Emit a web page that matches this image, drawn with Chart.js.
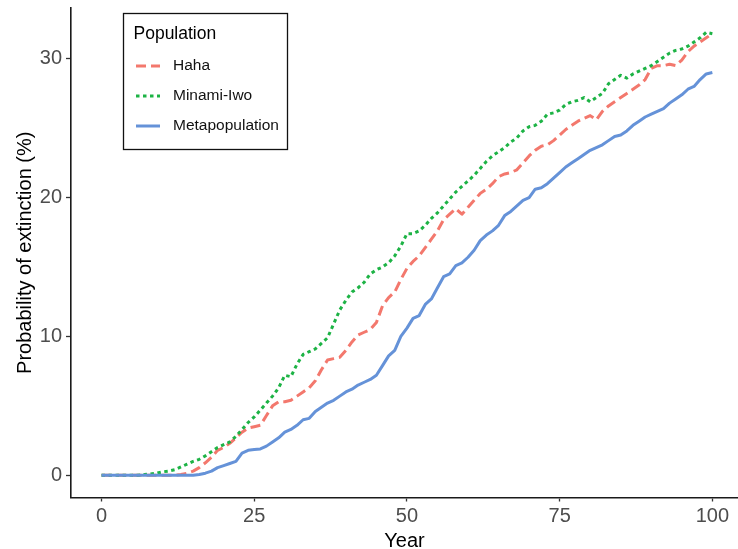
<!DOCTYPE html>
<html>
<head>
<meta charset="utf-8">
<script src="https://cdn.jsdelivr.net/npm/chart.js@4.4.1/dist/chart.umd.min.js"></script>
<style>
  html, body { margin: 0; padding: 0; background: #ffffff; overflow: hidden; }
  #c { display: block; }
</style>
</head>
<body>
<canvas id="c" width="738" height="549"></canvas>
<script>
// ---- data ----
const years = Array.from({length: 101}, (_, i) => i);
const seriesNames = ["Haha", "Minami-Iwo", "Metapopulation"];
const haha = [0,0,0,0,0,0,0,0,0,0,0,0,0,
  0.05,0.15,0.3,0.55,0.9,1.3,1.8,2.0,2.3,2.7,3.1,3.4,3.5,3.6,4.3,5.0,5.3,5.3,
  5.4,5.7,6.0,6.3,6.8,7.6,8.3,8.4,8.5,9.0,9.6,10.1,10.3,10.5,11.0,12.2,12.8,13.2,14.1,14.9,
  15.4,15.8,16.4,17.0,17.6,18.4,18.8,19.2,18.8,19.3,19.8,20.3,20.6,21.0,21.5,21.7,21.8,22.0,22.5,23.0,
  23.4,23.7,23.8,24.1,24.5,24.9,25.2,25.5,25.7,25.9,25.6,26.2,26.6,26.9,27.2,27.5,27.8,28.1,28.5,29.3,
  29.5,29.5,29.6,29.5,29.9,30.5,30.9,31.2,31.5,31.8];
const minamiIwo = [0,0,0,0,0,0,0,
  0.05,0.1,0.15,0.25,0.3,0.4,0.6,0.8,1.0,1.15,1.4,1.7,2.0,2.2,2.4,2.8,3.3,3.8,4.2,4.7,5.2,5.7,6.3,7.2,
  7.1,8.0,8.7,8.9,9.1,9.5,9.9,10.9,11.9,12.6,13.2,13.5,13.9,14.5,14.8,15.0,15.3,15.8,16.5,17.4,
  17.4,17.6,18.0,18.5,18.9,19.4,19.9,20.4,20.8,21.2,21.6,22.1,22.6,23.0,23.3,23.6,24.0,24.3,24.8,25.1,
  25.2,25.5,26.0,26.1,26.3,26.7,26.9,27.0,27.2,26.9,27.2,27.5,28.2,28.5,28.8,28.6,28.9,29.1,29.3,29.5,
  29.8,30.1,30.4,30.6,30.7,30.9,31.2,31.5,31.9,31.8];
const metapopulation = [0,0,0,0,0,0,0,0,0,0,0,0,0,0,0,0,
  0.05,0.15,0.3,0.55,0.7,0.85,1.0,1.6,1.8,1.85,1.9,2.1,2.4,2.7,3.1,
  3.3,3.6,4.0,4.1,4.6,4.9,5.2,5.4,5.7,6.0,6.2,6.5,6.7,6.9,7.2,7.9,8.6,9.0,10.0,10.6,
  11.3,11.5,12.3,12.7,13.5,14.3,14.5,15.1,15.3,15.7,16.2,16.9,17.3,17.6,18.0,18.7,19.0,19.4,19.8,20.0,
  20.6,20.7,21.0,21.4,21.8,22.2,22.5,22.8,23.1,23.4,23.6,23.8,24.1,24.4,24.5,24.8,25.2,25.5,25.8,26.0,
  26.2,26.4,26.8,27.1,27.4,27.8,28.0,28.5,28.9,29.0];
const xTicks = [0, 25, 50, 75, 100];
const yTicks = [0, 10, 20, 30];
const legendTitle = "Population";
const xTitle = "Year";
const yTitle = "Probability of extinction (%)";

// ---- styles ----
const FONT = "'Liberation Sans', Arial, Helvetica, sans-serif";
const styles = [
  {color: '#F3786D', dash: [10, 5], order: 2},
  {color: '#1DB345', dash: [3.5, 3.5], order: 1},
  {color: '#6592D8', dash: [], order: 0}
];
const values = [haha, minamiIwo, metapopulation];

const datasets = seriesNames.map((name, k) => ({
  label: name,
  data: years.map((y, i) => ({x: y, y: values[k][i]})),
  borderColor: styles[k].color,
  backgroundColor: styles[k].color,
  borderWidth: 3,
  borderDash: styles[k].dash,
  borderCapStyle: 'butt',
  borderJoinStyle: 'round',
  pointRadius: 0,
  pointHoverRadius: 0,
  tension: 0,
  fill: false,
  order: styles[k].order
}));

const legendPlugin = {
  id: 'ggLegend',
  afterDraw(chart) {
    const ctx = chart.ctx;
    ctx.save();
    ctx.strokeStyle = '#111';
    ctx.lineWidth = 1.3;
    ctx.strokeRect(123.5, 13.5, 164, 136);
    ctx.fillStyle = '#000';
    ctx.textAlign = 'left';
    ctx.textBaseline = 'alphabetic';
    ctx.font = '17.5px ' + FONT;
    ctx.fillText(legendTitle, 133.5, 39);
    const rows = [66, 96, 126];
    chart.data.datasets.forEach((ds, k) => {
      const y = rows[k];
      ctx.beginPath();
      ctx.strokeStyle = ds.borderColor;
      ctx.lineWidth = 3;
      ctx.lineCap = 'butt';
      ctx.setLineDash(ds.borderDash || []);
      ctx.moveTo(136, y);
      ctx.lineTo(160, y);
      ctx.stroke();
      ctx.setLineDash([]);
      ctx.fillStyle = '#111';
      ctx.font = '15.5px ' + FONT;
      ctx.textBaseline = 'middle';
      ctx.fillText(ds.label, 173, y);
    });
    ctx.restore();
  }
};

new Chart(document.getElementById('c'), {
  type: 'line',
  data: { datasets },
  plugins: [legendPlugin],
  options: {
    responsive: false,
    animation: false,
    devicePixelRatio: 1,
    events: [],
    layout: { autoPadding: false, padding: { left: 0, right: 0, top: 8, bottom: 0 } },
    plugins: { legend: { display: false }, tooltip: { enabled: false } },
    scales: {
      x: {
        type: 'linear',
        min: -5,
        max: 104.2,
        afterBuildTicks: s => { s.ticks = xTicks.map(v => ({value: v})); },
        afterFit: s => { s.height = 51.5; },
        ticks: {
          autoSkip: false,
          maxRotation: 0,
          font: { family: FONT, size: 20 },
          color: '#4D4D4D',
          padding: 3,
          callback: v => String(v)
        },
        grid: { drawOnChartArea: false, drawTicks: true, tickLength: 4, tickColor: '#333', tickWidth: 1.3 },
        border: { display: true, color: '#1a1a1a', width: 1.6 },
        title: {
          display: true, text: xTitle, color: '#000',
          font: { family: FONT, size: 20, lineHeight: 1.0 },
          padding: { top: 0, bottom: -2 }
        }
      },
      y: {
        type: 'linear',
        min: -1.6,
        max: 33.65,
        afterBuildTicks: s => { s.ticks = yTicks.map(v => ({value: v})); },
        afterFit: s => { s.width = 71; s.paddingTop = 0; s.paddingBottom = 0; },
        ticks: {
          autoSkip: false,
          font: { family: FONT, size: 20, lineHeight: 0.6 },
          color: '#4D4D4D',
          padding: 4,
          callback: v => String(v)
        },
        grid: { drawOnChartArea: false, drawTicks: true, tickLength: 5, tickColor: '#333', tickWidth: 1.3 },
        border: { display: true, color: '#1a1a1a', width: 1.6 },
        title: {
          display: true, text: yTitle, color: '#000',
          font: { family: FONT, size: 20, lineHeight: 1.2 },
          padding: { top: 13, bottom: 0 }
        }
      }
    }
  }
});
</script>
</body>
</html>
